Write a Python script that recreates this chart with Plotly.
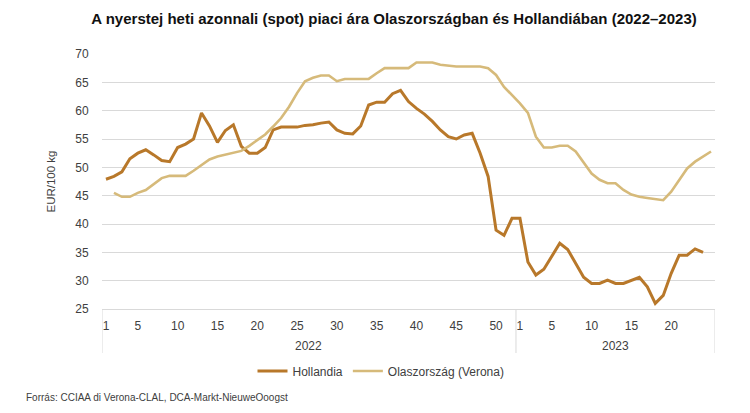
import plotly.graph_objects as go

# ---- data ----
years = ["2022", "2023"]
weeks_2022 = list(range(1, 53))
weeks_2023 = list(range(1, 26))

holland_2022 = [47.9, 48.4, 49.2, 51.5, 52.5, 53.1, 52.2, 51.2, 51.0, 53.5,
                54.1, 55.0, 59.6, 57.3, 54.4, 56.5, 57.5, 53.7, 52.5, 52.5,
                53.5, 56.6, 57.1, 57.1, 57.1, 57.4, 57.5, 57.8, 58.0, 56.6,
                56.0, 55.9, 57.3, 61.0, 61.5, 61.5, 63.0, 63.6, 61.6, 60.4,
                59.4, 58.1, 56.6, 55.4, 55.0, 55.7, 56.0, 52.5, 48.4, 38.9,
                38.0, 41.0]
holland_2023 = [41.0, 33.3, 31.0, 32.0, 34.2, 36.6, 35.5, 33.0, 30.6, 29.5,
                29.5, 30.1, 29.5, 29.5, 30.0, 30.6, 28.9, 26.0, 27.4, 31.3,
                34.5, 34.5, 35.6, 35.0, None]

italy_2022 = [None, 45.5, 44.8, 44.8, 45.5, 46.0, 47.0, 48.1, 48.5, 48.5,
              48.5, 49.4, 50.4, 51.4, 51.9, 52.2, 52.5, 52.9, 53.8, 54.8,
              55.8, 57.2, 58.7, 60.7, 63.1, 65.2, 65.8, 66.2, 66.2, 65.2,
              65.6, 65.6, 65.6, 65.6, 66.6, 67.5, 67.5, 67.5, 67.5, 68.5,
              68.5, 68.5, 68.1, 67.9, 67.8, 67.8, 67.8, 67.8, 67.5, 66.3,
              64.2, 62.7]
italy_2023 = [61.3, 59.6, 55.4, 53.5, 53.5, 53.8, 53.8, 52.8, 50.8, 48.9,
              47.8, 47.2, 47.2, 46.0, 45.2, 44.8, 44.6, 44.4, 44.2, 45.7,
              47.8, 49.8, 51.0, 51.9, 52.8]

tick_weeks_2022 = [1, 5, 10, 15, 20, 25, 30, 35, 40, 45, 50]
tick_weeks_2023 = [1, 5, 10, 15, 20]
y_ticks = [25, 30, 35, 40, 45, 50, 55, 60, 65, 70]

series_names = ["Hollandia", "Olaszország (Verona)"]
title_text = "A nyerstej heti azonnali (spot) piaci ára Olaszországban és Hollandiában (2022–2023)"
source_text = "Forrás: CCIAA di Verona-CLAL, DCA-Markt-NieuweOoogst"
y_title = "EUR/100 kg"

# ---- build categories ----
cats = [f"{years[0]}-{w:02d}" for w in weeks_2022] + [f"{years[1]}-{w:02d}" for w in weeks_2023]
holland = holland_2022 + holland_2023
italy = italy_2022 + italy_2023
tickvals = [f"{years[0]}-{w:02d}" for w in tick_weeks_2022] + [f"{years[1]}-{w:02d}" for w in tick_weeks_2023]
ticktext = [str(w) for w in tick_weeks_2022] + [str(w) for w in tick_weeks_2023]

C_HOL = "#B8782A"
C_ITA = "#D6BA7A"
GRID = "#D9D9D9"
TXT = "#404040"
FONT = "Liberation Sans, Arial, sans-serif"

OFF = 8  # page body margin
PLOT_H = 255.0
PLOT_W = 613.0

def py(pix):
    # page pixel y -> paper y (plot area spans page y 54..309)
    return (309 - pix) / PLOT_H

def px(pix):
    # page pixel x -> paper x (plot area spans page x 102..715)
    return (pix - 102) / PLOT_W

fig = go.Figure()
fig.add_trace(go.Scatter(x=cats, y=holland, mode="lines", name=series_names[0],
                         line=dict(color=C_HOL, width=3), connectgaps=False))
fig.add_trace(go.Scatter(x=cats, y=italy, mode="lines", name=series_names[1],
                         line=dict(color=C_ITA, width=2.6), connectgaps=False))

n22 = len(weeks_2022)
n_all = len(cats)

# dividers for multi-level axis
for xv in [-0.5, n22 - 0.5, n_all - 0.5]:
    fig.add_shape(type="line", xref="x", yref="paper", x0=xv, x1=xv, y0=0, y1=py(353),
                  line=dict(color=GRID, width=1))

# year labels
fig.add_annotation(x=(n22 - 1) / 2, y=py(346), xref="x", yref="paper", text=years[0],
                   showarrow=False, font=dict(size=12, color=TXT, family=FONT),
                   xanchor="center", yanchor="middle")
fig.add_annotation(x=(n22 - 0.5 + n_all - 0.5) / 2, y=py(346), xref="x", yref="paper",
                   text=years[1], showarrow=False, font=dict(size=12, color=TXT, family=FONT),
                   xanchor="center", yanchor="middle")

# y-axis title
fig.add_annotation(x=px(50), y=0.5, xref="paper", yref="paper", text=y_title,
                   textangle=-90, showarrow=False, font=dict(size=11.5, color=TXT, family=FONT),
                   xanchor="center", yanchor="middle")

# source
fig.add_annotation(x=px(24), y=py(397), xref="paper", yref="paper", text=source_text,
                   showarrow=False, font=dict(size=10, color=TXT, family=FONT),
                   xanchor="left", yanchor="middle")

fig.update_layout(
    width=750, height=413,
    margin=dict(l=102 - OFF, r=750 - 715 + OFF, t=54 - OFF, b=413 - 309 + OFF, autoexpand=False),
    paper_bgcolor="white", plot_bgcolor="white",
    font=dict(family=FONT, color=TXT, size=12),
    title=dict(text="<b>" + title_text + "</b>", x=(394 - OFF) / 750, xanchor="center",
               y=1 - (19 - OFF) / 413, yanchor="middle",
               font=dict(size=15, color="#111111", family=FONT)),
    showlegend=True,
    legend=dict(orientation="h", x=px(381), xanchor="center",
                y=py(371), yanchor="middle", font=dict(size=12, color=TXT, family=FONT),
                bgcolor="rgba(0,0,0,0)", tracegroupgap=0),
)

fig.update_xaxes(type="category", categoryorder="array", categoryarray=cats,
                 range=[-0.5, n_all - 0.5], tickmode="array", tickvals=tickvals,
                 ticktext=ticktext, tickangle=0, showgrid=False, showline=True, linecolor=GRID,
                 linewidth=1, ticks="outside", ticklen=6, tickcolor="rgba(0,0,0,0)",
                 tickfont=dict(size=12, color=TXT), zeroline=False, fixedrange=True)
fig.update_yaxes(range=[25, 70], tickmode="array", tickvals=y_ticks, showgrid=True,
                 gridcolor=GRID, gridwidth=1, showline=False, zeroline=False,
                 ticks="outside", ticklen=10, tickcolor="rgba(0,0,0,0)",
                 tickfont=dict(size=12, color=TXT), fixedrange=True)

fig.write_html("out.html")
